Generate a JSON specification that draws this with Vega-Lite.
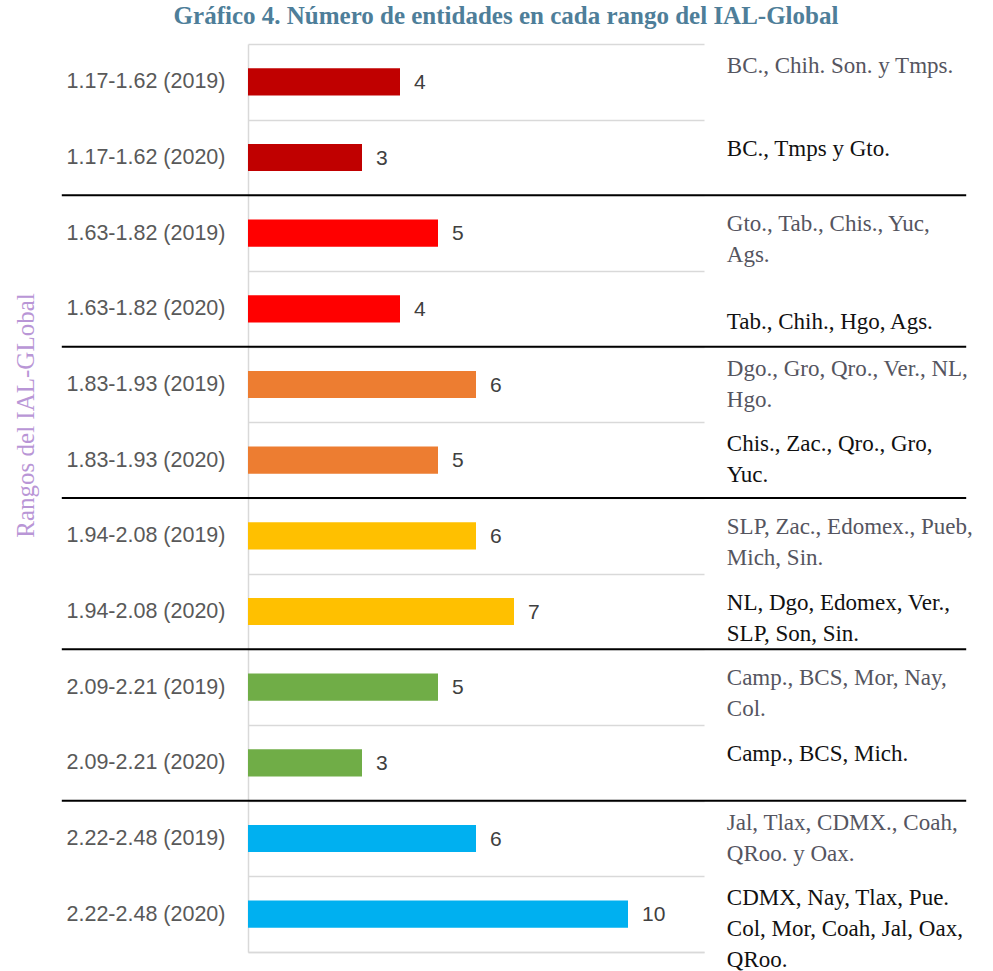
{
  "$schema": "https://vega.github.io/schema/vega-lite/v6.json",
  "autosize": "none",
  "padding": {"left": 248, "top": 44, "right": 289, "bottom": 19},
  "width": 456,
  "height": 908,
  "background": "white",
  "title": {
    "text": "Gráfico 4. Número de entidades en cada rango del IAL-Global",
    "font": "Liberation Serif",
    "fontSize": 25,
    "fontWeight": "bold",
    "color": "#4e7e99",
    "anchor": "middle",
    "dx": 30,
    "offset": 4
  },
  "config": {
    "view": {"stroke": null},
    "text": {"font": "Liberation Sans"}
  },
  "data": {
    "values": [
      {"cat": "1.17-1.62 (2019)", "range": "1.17-1.62", "year": 2019, "n": 4, "states": "BC., Chih. Son. y Tmps."},
      {"cat": "1.17-1.62 (2020)", "range": "1.17-1.62", "year": 2020, "n": 3, "states": "BC., Tmps y Gto."},
      {"cat": "1.63-1.82 (2019)", "range": "1.63-1.82", "year": 2019, "n": 5, "states": "Gto., Tab., Chis., Yuc,\nAgs."},
      {"cat": "1.63-1.82 (2020)", "range": "1.63-1.82", "year": 2020, "n": 4, "states": "Tab., Chih., Hgo, Ags."},
      {"cat": "1.83-1.93 (2019)", "range": "1.83-1.93", "year": 2019, "n": 6, "states": "Dgo., Gro, Qro., Ver., NL,\nHgo."},
      {"cat": "1.83-1.93 (2020)", "range": "1.83-1.93", "year": 2020, "n": 5, "states": "Chis., Zac., Qro., Gro,\nYuc."},
      {"cat": "1.94-2.08 (2019)", "range": "1.94-2.08", "year": 2019, "n": 6, "states": "SLP, Zac., Edomex., Pueb,\nMich, Sin."},
      {"cat": "1.94-2.08 (2020)", "range": "1.94-2.08", "year": 2020, "n": 7, "states": "NL, Dgo, Edomex, Ver.,\nSLP, Son, Sin."},
      {"cat": "2.09-2.21 (2019)", "range": "2.09-2.21", "year": 2019, "n": 5, "states": "Camp., BCS, Mor, Nay,\nCol."},
      {"cat": "2.09-2.21 (2020)", "range": "2.09-2.21", "year": 2020, "n": 3, "states": "Camp., BCS, Mich."},
      {"cat": "2.22-2.48 (2019)", "range": "2.22-2.48", "year": 2019, "n": 6, "states": "Jal, Tlax, CDMX., Coah,\nQRoo. y Oax."},
      {"cat": "2.22-2.48 (2020)", "range": "2.22-2.48", "year": 2020, "n": 10, "states": "CDMX, Nay, Tlax, Pue.\nCol, Mor, Coah, Jal, Oax,\nQRoo."}
    ]
  },
  "encoding": {
    "y": {
      "field": "cat",
      "type": "nominal",
      "sort": null,
      "scale": {"paddingInner": 0, "paddingOuter": 0},
      "axis": {
        "title": "Rangos del IAL-GLobal",
        "titleFont": "Liberation Serif",
        "titleFontSize": 25,
        "titleFontWeight": "normal",
        "titleColor": "#b996d6",
        "titleAngle": -90,
        "titleAlign": "center",
        "titleBaseline": "middle",
        "titleX": -223,
        "titleY": 371,
        "labelFont": "Liberation Sans",
        "labelFontSize": 21.5,
        "labelColor": "#595959",
        "labelPadding": 23,
        "ticks": false,
        "tickBand": "extent",
        "grid": true,
        "gridColor": "#d9d9d9",
        "gridWidth": 1.5,
        "domainColor": "#d9d9d9",
        "domainWidth": 1.5
      }
    }
  },
  "layer": [
    {
      "mark": {"type": "bar", "height": {"band": 0.36}},
      "encoding": {
        "x": {
          "field": "n",
          "type": "quantitative",
          "scale": {"domain": [0, 12], "nice": false},
          "axis": {"title": null, "labels": false, "ticks": false, "grid": false, "domainColor": "#d9d9d9", "domainWidth": 1.5}
        },
        "color": {
          "field": "range",
          "type": "nominal",
          "legend": null,
          "scale": {
            "domain": ["1.17-1.62", "1.63-1.82", "1.83-1.93", "1.94-2.08", "2.09-2.21", "2.22-2.48"],
            "range": ["#c00000", "#ff0000", "#ed7d31", "#ffc000", "#70ad47", "#00b0f0"]
          }
        }
      }
    },
    {
      "mark": {"type": "text", "align": "left", "baseline": "middle", "dx": 14, "dy": 1, "fontSize": 21, "color": "#404040", "font": "Liberation Sans"},
      "encoding": {
        "x": {"field": "n", "type": "quantitative"},
        "text": {"field": "n", "type": "quantitative"}
      }
    },
    {
      "transform": [{"filter": {"field": "cat", "oneOf": ["1.17-1.62 (2019)", "1.83-1.93 (2019)", "1.83-1.93 (2020)", "2.22-2.48 (2019)", "2.22-2.48 (2020)"]}}],
      "mark": {"type": "text", "align": "left", "baseline": "middle", "dy": -16, "fontSize": 23, "font": "Liberation Serif", "lineBreak": "\n", "lineHeight": 31},
      "encoding": {
        "x": {"datum": 12.6},
        "text": {"field": "states"},
        "color": {"condition": {"test": "datum.year == 2019", "value": "#555560"}, "value": "#111111"}
      }
    },
    {
      "transform": [{"filter": {"field": "cat", "oneOf": ["1.17-1.62 (2020)", "1.63-1.82 (2019)", "1.94-2.08 (2019)", "1.94-2.08 (2020)", "2.09-2.21 (2019)", "2.09-2.21 (2020)"]}}],
      "mark": {"type": "text", "align": "left", "baseline": "middle", "dy": -9, "fontSize": 23, "font": "Liberation Serif", "lineBreak": "\n", "lineHeight": 31},
      "encoding": {
        "x": {"datum": 12.6},
        "text": {"field": "states"},
        "color": {"condition": {"test": "datum.year == 2019", "value": "#555560"}, "value": "#111111"}
      }
    },
    {
      "transform": [{"filter": {"field": "cat", "oneOf": ["1.63-1.82 (2020)"]}}],
      "mark": {"type": "text", "align": "left", "baseline": "middle", "dy": 13, "fontSize": 23, "font": "Liberation Serif", "lineBreak": "\n", "lineHeight": 31},
      "encoding": {
        "x": {"datum": 12.6},
        "text": {"field": "states"},
        "color": {"condition": {"test": "datum.year == 2019", "value": "#555560"}, "value": "#111111"}
      }
    },
    {
      "transform": [{"filter": "datum.year == 2019 && datum.range != '1.17-1.62'"}],
      "mark": {"type": "rule", "color": "#000000", "strokeWidth": 2},
      "encoding": {
        "y": {"field": "cat", "type": "nominal", "bandPosition": 0},
        "x": {"datum": -4.9},
        "x2": {"datum": 18.9}
      }
    }
  ]
}
